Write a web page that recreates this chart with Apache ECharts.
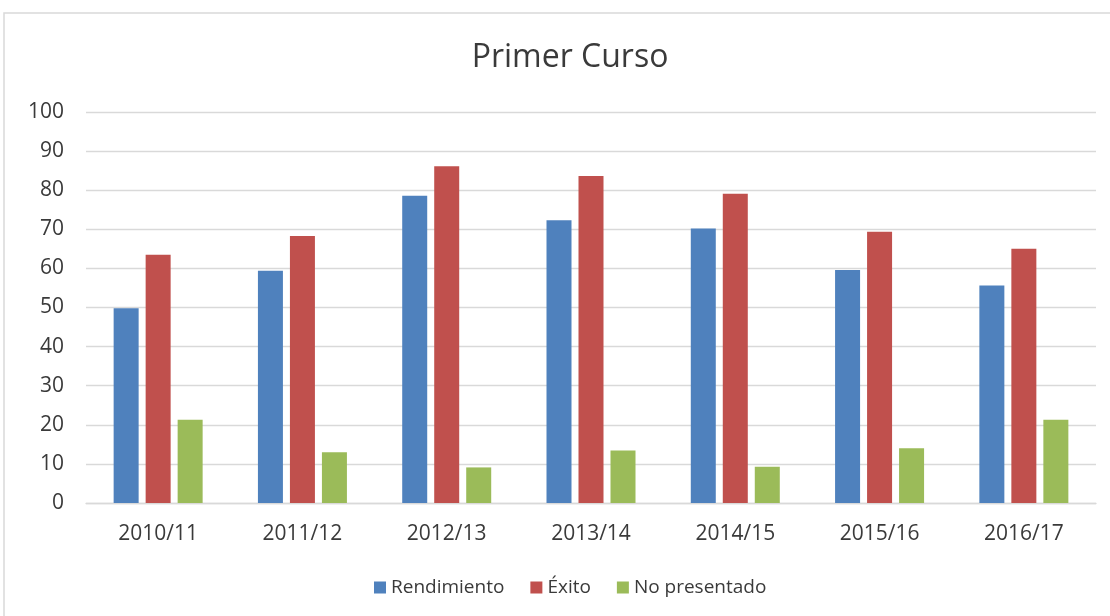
<!DOCTYPE html>
<html>
<head>
<meta charset="utf-8">
<title>Primer Curso</title>
<script src="https://cdn.jsdelivr.net/npm/echarts@6/dist/echarts.min.js"></script>
<style>
  html, body { margin: 0; padding: 0; background: #ffffff; }
  #chart { width: 1110px; height: 616px; }
</style>
</head>
<body>
<div id="chart"></div>
<script>
// Academic years on the category axis
const cursos = ['2010/11', '2011/12', '2012/13', '2013/14', '2014/15', '2015/16', '2016/17'];

// Rates (%) per year
const rendimiento = [49.8, 59.4, 78.6, 72.3, 70.2, 59.6, 55.6];
const exito = [63.5, 68.3, 86.1, 83.6, 79.1, 69.4, 65.0];
const noPresentado = [21.3, 13.0, 9.1, 13.4, 9.3, 14.0, 21.3];

// Value axis ticks
const yTicks = [0, 10, 20, 30, 40, 50, 60, 70, 80, 90, 100];

const FONT = '"Open Sans", "Noto Sans", sans-serif';
const TEXT = '#3a3a3a';
const GRID_LINE = '#d9d9d9';

const chart = echarts.init(document.getElementById('chart'), null, { renderer: 'canvas' });

function barSeries(name, data, color) {
  return {
    name: name,
    type: 'bar',
    data: data,
    barWidth: 25,
    barGap: '28%',
    itemStyle: { color: color },
    emphasis: { disabled: true }
  };
}

chart.setOption({
  animation: false,
  backgroundColor: '#ffffff',
  graphic: [{
    type: 'rect',
    shape: { x: 4, y: 13, width: 1200, height: 700 },
    style: { fill: 'none', stroke: GRID_LINE, lineWidth: 1.5 },
    silent: true
  }],
  title: {
    text: 'Primer Curso',
    left: 565,
    top: 37,
    textAlign: 'center',
    textStyle: { fontFamily: FONT, fontSize: 32, fontWeight: 'normal', color: TEXT }
  },
  legend: {
    bottom: 14,
    left: 369,
    itemWidth: 12,
    itemHeight: 12,
    itemGap: 26,
    icon: 'rect',
    textStyle: { fontFamily: FONT, fontSize: 19, color: TEXT },
    data: ['Rendimiento', 'Éxito', 'No presentado']
  },
  grid: { left: 86, right: 14, top: 112, bottom: 113, containLabel: false },
  xAxis: {
    type: 'category',
    data: cursos,
    axisLine: { show: true, lineStyle: { color: GRID_LINE, width: 1.3 } },
    axisTick: { show: false },
    axisLabel: { fontFamily: FONT, fontSize: 21, color: TEXT, margin: 21 }
  },
  yAxis: {
    type: 'value',
    min: yTicks[0],
    max: yTicks[yTicks.length - 1],
    interval: yTicks[1] - yTicks[0],
    axisLine: { show: false },
    axisTick: { show: false },
    splitLine: { lineStyle: { color: GRID_LINE, width: 1.3 } },
    axisLabel: { fontFamily: FONT, fontSize: 21, color: TEXT, margin: 22 }
  },
  series: [
    barSeries('Rendimiento', rendimiento, '#4F81BD'),
    barSeries('Éxito', exito, '#C0504D'),
    barSeries('No presentado', noPresentado, '#9BBB59')
  ]
});
</script>
</body>
</html>
